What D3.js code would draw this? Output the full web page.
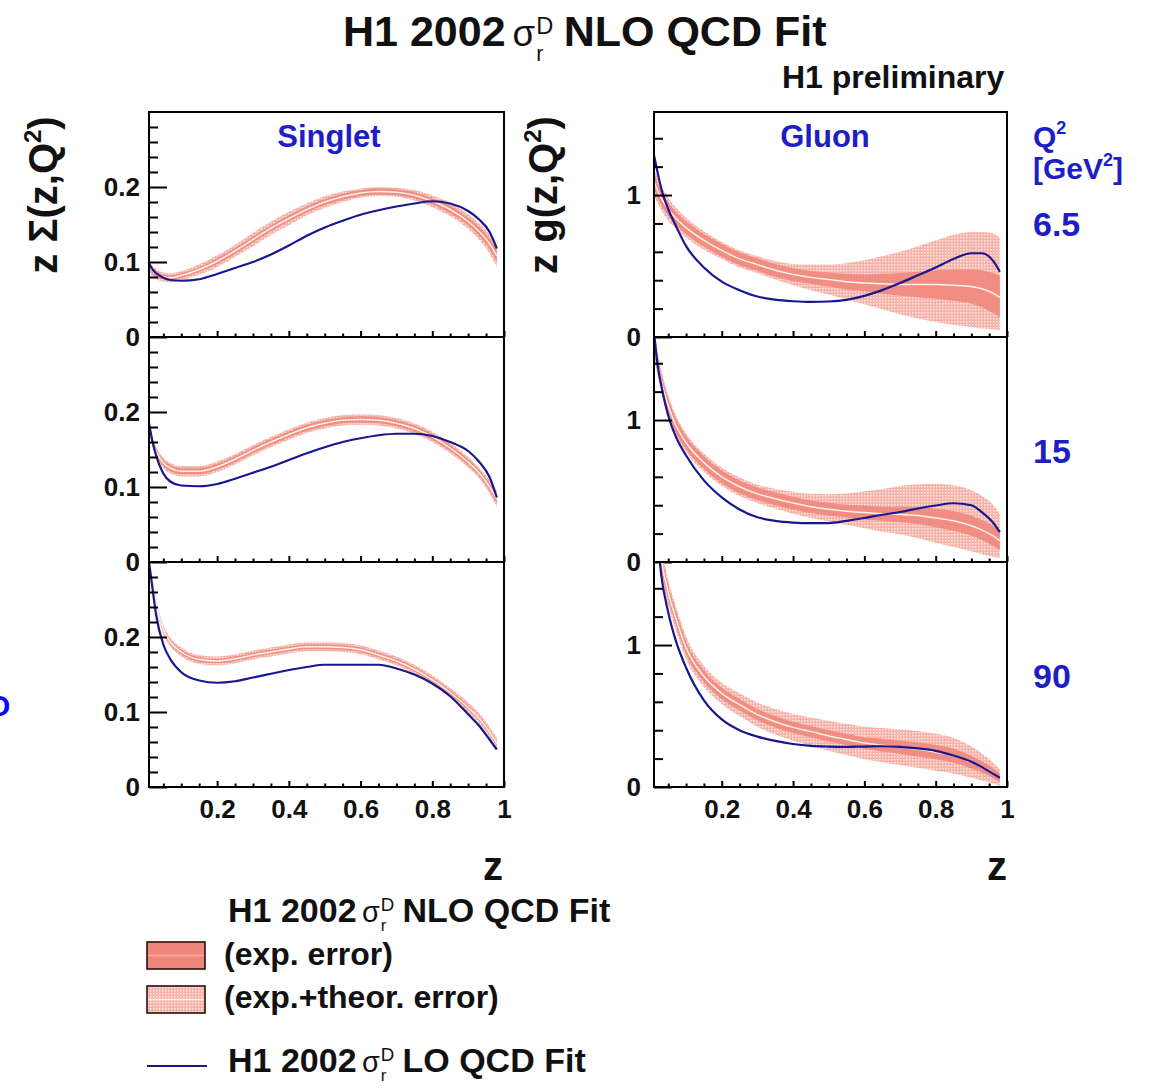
<!DOCTYPE html>
<html><head><meta charset="utf-8">
<script src="https://cdn.jsdelivr.net/npm/d3@7/dist/d3.min.js"></script>
<style>
body{margin:0;background:#fff}
svg{display:block}
text{font-family:'Liberation Sans',Arial,Helvetica,sans-serif}
</style>
</head><body>
<svg id="c" width="1156" height="1088"></svg>
<script>
// ---------------- data ----------------
const zGrid = [0.01,0.02,0.03,0.05,0.07,0.1,0.15,0.2,0.25,0.3,0.35,0.4,0.45,0.5,0.55,0.6,0.65,0.7,0.75,0.8,0.85,0.9,0.93,0.96,0.98];

const xMajor = [0.2,0.4,0.6,0.8,1];
const xMajorLabels = ["0.2","0.4","0.6","0.8","1"];
const xMinor = [0.05,0.1,0.15,0.25,0.3,0.35,0.45,0.5,0.55,0.65,0.7,0.75,0.85,0.9,0.95];
const singletMajor = [0,0.1,0.2];
const singletMajorLabels = ["0","0.1","0.2"];
const singletMinor = [0.02,0.04,0.06,0.08,0.12,0.14,0.16,0.18,0.22,0.24,0.26,0.28];
const gluonMajor = [0,1];
const gluonMajorLabels = ["0","1"];
const gluonMinor = [0.2,0.4,0.6,0.8,1.2,1.4];
const q2Labels = ["6.5","15","90"];

// Singlet, Q2 = 6.5
const s65_lo    = [0.098,0.090,0.085,0.079,0.076,0.075,0.077,0.084,0.092,0.100,0.110,0.122,0.135,0.146,0.155,0.163,0.169,0.174,0.178,0.181,0.178,0.168,0.157,0.140,0.118];
const s65_nlo   = [0.095,0.088,0.084,0.080,0.079,0.082,0.090,0.101,0.115,0.130,0.145,0.158,0.170,0.180,0.187,0.192,0.194,0.193,0.189,0.181,0.170,0.154,0.141,0.124,0.108];
const s65_expLo = [0.091,0.084,0.080,0.077,0.076,0.079,0.087,0.097,0.111,0.126,0.141,0.154,0.166,0.176,0.183,0.188,0.190,0.189,0.185,0.177,0.165,0.149,0.135,0.117,0.100];
const s65_expHi = [0.099,0.092,0.088,0.083,0.082,0.085,0.093,0.105,0.119,0.134,0.149,0.162,0.174,0.184,0.191,0.196,0.198,0.197,0.193,0.185,0.175,0.159,0.147,0.131,0.116];
const s65_totLo = [0.088,0.081,0.077,0.074,0.073,0.076,0.083,0.093,0.107,0.121,0.136,0.149,0.162,0.172,0.180,0.186,0.188,0.187,0.182,0.173,0.161,0.144,0.130,0.111,0.093];
const s65_totHi = [0.102,0.095,0.091,0.086,0.085,0.088,0.097,0.109,0.123,0.139,0.154,0.167,0.178,0.188,0.194,0.198,0.200,0.199,0.196,0.189,0.179,0.164,0.152,0.137,0.123];

// Singlet, Q2 = 15
const s15_lo    = [0.185,0.160,0.142,0.118,0.107,0.102,0.101,0.104,0.111,0.119,0.127,0.136,0.145,0.153,0.160,0.165,0.169,0.171,0.171,0.168,0.160,0.148,0.134,0.113,0.086];
const s15_nlo   = [0.190,0.160,0.147,0.132,0.125,0.121,0.121,0.127,0.137,0.149,0.160,0.170,0.179,0.185,0.189,0.190,0.189,0.185,0.178,0.167,0.152,0.133,0.119,0.100,0.084];
const s15_expLo = [0.186,0.156,0.143,0.128,0.121,0.117,0.117,0.123,0.133,0.145,0.156,0.166,0.175,0.181,0.185,0.186,0.185,0.181,0.174,0.163,0.148,0.129,0.115,0.095,0.078];
const s15_expHi = [0.194,0.164,0.151,0.136,0.129,0.125,0.125,0.131,0.141,0.153,0.164,0.174,0.183,0.189,0.193,0.194,0.193,0.189,0.182,0.171,0.156,0.137,0.123,0.105,0.090];
const s15_totLo = [0.183,0.153,0.140,0.125,0.118,0.114,0.114,0.120,0.130,0.142,0.153,0.163,0.172,0.178,0.182,0.183,0.182,0.178,0.171,0.160,0.145,0.126,0.112,0.091,0.073];
const s15_totHi = [0.197,0.167,0.154,0.139,0.132,0.128,0.128,0.134,0.144,0.156,0.167,0.177,0.186,0.192,0.196,0.197,0.196,0.192,0.185,0.174,0.159,0.140,0.126,0.109,0.095];

// Singlet, Q2 = 90
const s90_lo    = [0.300,0.264,0.229,0.190,0.170,0.153,0.142,0.139,0.141,0.146,0.151,0.156,0.160,0.163,0.163,0.163,0.163,0.158,0.150,0.138,0.121,0.097,0.082,0.063,0.050];
const s90_nlo   = [0.300,0.272,0.245,0.210,0.193,0.180,0.170,0.168,0.171,0.176,0.180,0.184,0.187,0.187,0.186,0.183,0.176,0.168,0.157,0.143,0.126,0.106,0.092,0.073,0.058];
const s90_expLo = [0.297,0.269,0.242,0.207,0.190,0.177,0.167,0.165,0.168,0.173,0.177,0.181,0.184,0.184,0.183,0.180,0.173,0.165,0.154,0.140,0.123,0.103,0.089,0.070,0.055];
const s90_expHi = [0.303,0.275,0.248,0.213,0.196,0.183,0.173,0.171,0.174,0.179,0.183,0.187,0.190,0.190,0.189,0.186,0.179,0.171,0.160,0.146,0.129,0.109,0.095,0.076,0.061];
const s90_totLo = [0.294,0.266,0.239,0.204,0.187,0.174,0.164,0.162,0.165,0.170,0.174,0.178,0.181,0.181,0.180,0.177,0.170,0.162,0.151,0.137,0.120,0.099,0.085,0.066,0.050];
const s90_totHi = [0.306,0.278,0.251,0.216,0.199,0.186,0.176,0.174,0.177,0.182,0.186,0.190,0.193,0.193,0.192,0.189,0.182,0.174,0.163,0.149,0.132,0.113,0.099,0.080,0.066];

// Gluon, Q2 = 6.5
const g65_lo    = [1.28,1.16,1.05,0.90,0.79,0.64,0.49,0.39,0.33,0.285,0.263,0.252,0.247,0.250,0.262,0.290,0.33,0.38,0.435,0.49,0.55,0.59,0.59,0.54,0.46];
const g65_nlo   = [1.10,1.03,0.98,0.90,0.84,0.77,0.68,0.61,0.55,0.51,0.47,0.44,0.42,0.405,0.39,0.38,0.375,0.37,0.37,0.37,0.365,0.355,0.34,0.31,0.28];
const g65_expLo = [1.04,0.98,0.93,0.855,0.795,0.725,0.635,0.565,0.505,0.465,0.425,0.395,0.375,0.355,0.335,0.32,0.305,0.29,0.28,0.27,0.255,0.235,0.21,0.17,0.14];
const g65_expHi = [1.16,1.08,1.03,0.945,0.885,0.815,0.725,0.655,0.595,0.555,0.515,0.485,0.465,0.455,0.445,0.44,0.445,0.45,0.46,0.47,0.475,0.475,0.47,0.45,0.43];
const g65_totLo = [1.00,0.94,0.895,0.82,0.765,0.70,0.615,0.55,0.49,0.45,0.405,0.365,0.33,0.30,0.265,0.23,0.195,0.16,0.13,0.105,0.085,0.07,0.06,0.055,0.05];
const g65_totHi = [1.20,1.12,1.065,0.98,0.915,0.84,0.745,0.67,0.61,0.57,0.535,0.515,0.51,0.51,0.52,0.54,0.57,0.60,0.64,0.68,0.72,0.74,0.74,0.73,0.70];

// Gluon, Q2 = 15
const g15_lo    = [1.62,1.39,1.25,1.03,0.89,0.75,0.575,0.455,0.37,0.315,0.29,0.278,0.274,0.274,0.29,0.31,0.333,0.352,0.377,0.398,0.414,0.40,0.35,0.28,0.21];
const g15_nlo   = [1.55,1.40,1.28,1.10,0.97,0.84,0.70,0.60,0.53,0.48,0.445,0.415,0.39,0.372,0.358,0.348,0.34,0.335,0.328,0.31,0.29,0.255,0.225,0.185,0.15];
const g15_expLo = [1.49,1.345,1.23,1.05,0.92,0.795,0.655,0.555,0.485,0.435,0.40,0.37,0.345,0.327,0.313,0.298,0.29,0.28,0.268,0.245,0.22,0.185,0.155,0.115,0.085];
const g15_expHi = [1.61,1.455,1.33,1.15,1.02,0.885,0.745,0.645,0.575,0.525,0.49,0.46,0.435,0.417,0.403,0.398,0.39,0.39,0.388,0.375,0.36,0.325,0.295,0.255,0.215];
const g15_totLo = [1.46,1.315,1.20,1.025,0.90,0.775,0.635,0.535,0.465,0.415,0.375,0.34,0.31,0.287,0.263,0.238,0.215,0.195,0.168,0.135,0.105,0.075,0.055,0.035,0.03];
const g15_totHi = [1.64,1.485,1.36,1.175,1.04,0.905,0.765,0.665,0.595,0.545,0.515,0.495,0.48,0.477,0.483,0.498,0.515,0.535,0.548,0.55,0.54,0.505,0.465,0.405,0.34];

// Gluon, Q2 = 90
const g90_lo    = [2.0,1.75,1.50,1.23,1.04,0.84,0.61,0.476,0.40,0.355,0.325,0.303,0.29,0.285,0.283,0.285,0.287,0.283,0.272,0.255,0.222,0.178,0.14,0.095,0.065];
const g90_nlo   = [2.10,1.85,1.62,1.37,1.20,0.98,0.78,0.66,0.58,0.51,0.46,0.42,0.39,0.36,0.335,0.31,0.295,0.28,0.265,0.245,0.22,0.175,0.14,0.10,0.065];
const g90_expLo = [2.02,1.78,1.56,1.32,1.15,0.935,0.74,0.62,0.54,0.47,0.42,0.38,0.35,0.32,0.295,0.27,0.25,0.235,0.215,0.195,0.17,0.13,0.10,0.065,0.035];
const g90_expHi = [2.18,1.92,1.68,1.42,1.25,1.025,0.82,0.70,0.62,0.55,0.50,0.46,0.43,0.40,0.375,0.35,0.34,0.325,0.315,0.295,0.27,0.22,0.18,0.135,0.095];
const g90_totLo = [1.96,1.73,1.51,1.28,1.115,0.90,0.705,0.585,0.50,0.425,0.37,0.325,0.29,0.255,0.225,0.195,0.175,0.155,0.135,0.115,0.095,0.065,0.045,0.025,0.005];
const g90_totHi = [2.24,1.97,1.73,1.46,1.285,1.06,0.855,0.735,0.66,0.595,0.55,0.515,0.49,0.465,0.445,0.425,0.415,0.405,0.395,0.375,0.345,0.285,0.235,0.175,0.125];

// ---------------- layout ----------------
const svg = d3.select('#c');
const BLUE_TXT = '#1e1ec4', LO_COL = '#17178f', EXP_COL = '#f0877c', CEN_COL = '#fff2e6';
const colX = [[149,504],[654,1007]];
const rowTop = [112,337,562];
const PH = 225;
const yMaxS = 0.3, yMaxG = 1.585;

const defs = svg.append('defs');
const pat = defs.append('pattern').attr('id','dots').attr('patternUnits','userSpaceOnUse').attr('width',3).attr('height',3);
pat.append('rect').attr('width',3).attr('height',3).attr('fill','#f5b2a8');
pat.append('rect').attr('width',1.5).attr('height',1.5).attr('fill','#fde8e3');

const panels = [
  {col:0,row:0,kind:'s',lo:s65_lo,nlo:s65_nlo,eL:s65_expLo,eH:s65_expHi,tL:s65_totLo,tH:s65_totHi},
  {col:0,row:1,kind:'s',lo:s15_lo,nlo:s15_nlo,eL:s15_expLo,eH:s15_expHi,tL:s15_totLo,tH:s15_totHi},
  {col:0,row:2,kind:'s',lo:s90_lo,nlo:s90_nlo,eL:s90_expLo,eH:s90_expHi,tL:s90_totLo,tH:s90_totHi},
  {col:1,row:0,kind:'g',lo:g65_lo,nlo:g65_nlo,eL:g65_expLo,eH:g65_expHi,tL:g65_totLo,tH:g65_totHi},
  {col:1,row:1,kind:'g',lo:g15_lo,nlo:g15_nlo,eL:g15_expLo,eH:g15_expHi,tL:g15_totLo,tH:g15_totHi},
  {col:1,row:2,kind:'g',lo:g90_lo,nlo:g90_nlo,eL:g90_expLo,eH:g90_expHi,tL:g90_totLo,tH:g90_totHi}
];

const curve = d3.curveMonotoneX;

panels.forEach((p,i) => {
  const [x0,x1] = colX[p.col];
  const top = rowTop[p.row];
  const x = d3.scaleLinear().domain([0.01,1]).range([x0,x1]);
  const y = d3.scaleLinear().domain([0, p.kind==='s'?yMaxS:yMaxG]).range([top+PH, top]);
  const clipId = 'clip'+i;
  defs.append('clipPath').attr('id',clipId).append('rect')
    .attr('x',x0).attr('y',top).attr('width',x1-x0).attr('height',PH);
  const g = svg.append('g').attr('clip-path',`url(#${clipId})`);
  const idx = d3.range(zGrid.length);
  const band = (lo,hi) => d3.area().curve(curve).x(k=>x(zGrid[k])).y0(k=>y(lo[k])).y1(k=>y(hi[k]));
  g.append('path').attr('d',band(p.tL,p.tH)(idx)).attr('fill','url(#dots)');
  g.append('path').attr('d',band(p.eL,p.eH)(idx)).attr('fill',EXP_COL).attr('opacity',0.9);
  const line = arr => d3.line().curve(curve).x(k=>x(zGrid[k])).y(k=>y(arr[k]));
  g.append('path').attr('d',line(p.nlo)(idx)).attr('fill','none').attr('stroke',CEN_COL).attr('stroke-width',1.5);
  g.append('path').attr('d',line(p.lo)(idx)).attr('fill','none').attr('stroke',LO_COL).attr('stroke-width',2.2);

  // axes
  const major = p.kind==='s'?singletMajor:gluonMajor;
  const majorLab = p.kind==='s'?singletMajorLabels:gluonMajorLabels;
  const minor = p.kind==='s'?singletMinor:gluonMinor;
  const pad = p.col===0?9:13;
  const ax = svg.append('g').attr('transform',`translate(${x0},0)`);
  ax.call(d3.axisLeft(y).tickValues(minor).tickSize(-9).tickFormat(''));
  ax.call(g2=>g2.select('.domain').remove());
  const axM = svg.append('g').attr('transform',`translate(${x0},0)`);
  axM.call(d3.axisLeft(y).tickValues(major).tickSize(-18).tickPadding(pad)
     .tickFormat((d,k)=>majorLab[k]));
  axM.select('.domain').remove();
  const bx = svg.append('g').attr('transform',`translate(0,${top+PH})`);
  bx.call(d3.axisBottom(x).tickValues(xMinor).tickSize(-3.5).tickFormat(''));
  bx.select('.domain').remove();
  const bxM = svg.append('g').attr('transform',`translate(0,${top+PH})`);
  bxM.call(d3.axisBottom(x).tickValues(xMajor).tickSize(-6).tickPadding(13)
     .tickFormat((d,k)=> p.row===2 ? xMajorLabels[k] : ''));
  bxM.select('.domain').remove();
  [ax,axM,bx,bxM].forEach(a=>{
    a.selectAll('line').attr('stroke','#000').attr('stroke-width',2);
    a.selectAll('text').attr('font-size',26).attr('font-weight','bold').attr('fill','#111')
      .attr('font-family',"'Liberation Sans',Arial,sans-serif");
  });
  svg.append('rect').attr('x',x0).attr('y',top).attr('width',x1-x0).attr('height',PH)
    .attr('fill','none').attr('stroke','#000').attr('stroke-width',2);
});

// ---------------- texts ----------------
function sigmaLabel(x, y, fs, pre, post, subOff, supOff) {
  const g = svg.append('g').attr('fill','#111');
  const a = g.append('text').attr('x',x).attr('y',y).attr('font-size',fs).attr('font-weight','bold').text(pre);
  let cx = x + a.node().getComputedTextLength() + fs*0.16;
  const s = g.append('text').attr('x',cx).attr('y',y).attr('font-size',fs*0.85).text('σ');
  cx += s.node().getComputedTextLength() + fs*0.03;
  const r = g.append('text').attr('x',cx).attr('y',y+fs*subOff).attr('font-size',fs*0.5).text('r');
  const d = g.append('text').attr('x',cx).attr('y',y-fs*supOff).attr('font-size',fs*0.55).text('D');
  cx += Math.max(r.node().getComputedTextLength(), d.node().getComputedTextLength()) + fs*0.24;
  g.append('text').attr('x',cx).attr('y',y).attr('font-size',fs).attr('font-weight','bold').text(post);
}

sigmaLabel(343, 46, 43, 'H1 2002', 'NLO QCD Fit', 0.34, 0.27);
svg.append('text').attr('x',782).attr('y',88).attr('font-size',32).attr('font-weight','bold')
  .attr('fill','#111').text('H1 preliminary');

svg.append('text').attr('x',329).attr('y',147).attr('text-anchor','middle').attr('font-size',31)
  .attr('font-weight','bold').attr('fill',BLUE_TXT).text('Singlet');
svg.append('text').attr('x',825).attr('y',147).attr('text-anchor','middle').attr('font-size',31)
  .attr('font-weight','bold').attr('fill',BLUE_TXT).text('Gluon');

// y titles
function yTitle(x, y, main) {
  const t = svg.append('text').attr('transform',`translate(${x},${y}) rotate(-90)`)
    .attr('text-anchor','middle').attr('font-size',40).attr('font-weight','bold').attr('fill','#111');
  t.append('tspan').text(main);
  t.append('tspan').attr('font-size',24).attr('dy',-16).text('2');
  t.append('tspan').attr('dy',16).text(')');
}
yTitle(57, 195, 'z Σ(z,Q');
yTitle(557, 195, 'z g(z,Q');

// x titles
svg.append('text').attr('x',493).attr('y',880).attr('text-anchor','middle').attr('font-size',40)
  .attr('font-weight','bold').attr('fill','#111').text('z');
svg.append('text').attr('x',997).attr('y',880).attr('text-anchor','middle').attr('font-size',40)
  .attr('font-weight','bold').attr('fill','#111').text('z');

// Q2 labels
const q = svg.append('text').attr('x',1033).attr('y',147).attr('font-size',30).attr('font-weight','bold').attr('fill',BLUE_TXT);
q.append('tspan').text('Q');
q.append('tspan').attr('font-size',18).attr('dy',-13).text('2');
const q2 = svg.append('text').attr('x',1033).attr('y',179).attr('font-size',30).attr('font-weight','bold').attr('fill',BLUE_TXT);
q2.append('tspan').text('[GeV');
q2.append('tspan').attr('font-size',18).attr('dy',-13).text('2');
q2.append('tspan').attr('dy',13).text(']');

const q2Y = [236,463,688];
q2Labels.forEach((t,k)=>{
  svg.append('text').attr('x',1033).attr('y',q2Y[k]).attr('font-size',34).attr('font-weight','bold')
    .attr('fill',BLUE_TXT).text(t);
});

// partially visible glyph at the left edge (as in the reference)
svg.append('text').attr('x',-13).attr('y',716).attr('font-size',30).attr('font-weight','bold')
  .attr('fill','#0a0aee').text('O');

// ---------------- legend ----------------
sigmaLabel(228, 922, 34, 'H1 2002', 'NLO QCD Fit', 0.26, 0.32);
svg.append('rect').attr('x',147).attr('y',942).attr('width',58).attr('height',27)
  .attr('fill',EXP_COL).attr('stroke','#2a1010').attr('stroke-width',1.6);
svg.append('line').attr('x1',148).attr('x2',204).attr('y1',955.5).attr('y2',955.5)
  .attr('stroke','#f7aca2').attr('stroke-width',1.5);
svg.append('text').attr('x',224).attr('y',965).attr('font-size',32).attr('font-weight','bold')
  .attr('fill','#111').text('(exp. error)');
svg.append('rect').attr('x',147).attr('y',986).attr('width',58).attr('height',27)
  .attr('fill','url(#dots)').attr('stroke','#2a1010').attr('stroke-width',1.6);
svg.append('line').attr('x1',148).attr('x2',204).attr('y1',999.5).attr('y2',999.5)
  .attr('stroke','#fff2ea').attr('stroke-width',1.5);
svg.append('text').attr('x',224).attr('y',1008).attr('font-size',32).attr('font-weight','bold')
  .attr('fill','#111').text('(exp.+theor. error)');
svg.append('line').attr('x1',147).attr('x2',207).attr('y1',1066).attr('y2',1066)
  .attr('stroke',LO_COL).attr('stroke-width',2);
sigmaLabel(228, 1072, 34, 'H1 2002', 'LO QCD Fit', 0.26, 0.32);
</script>
</body></html>
